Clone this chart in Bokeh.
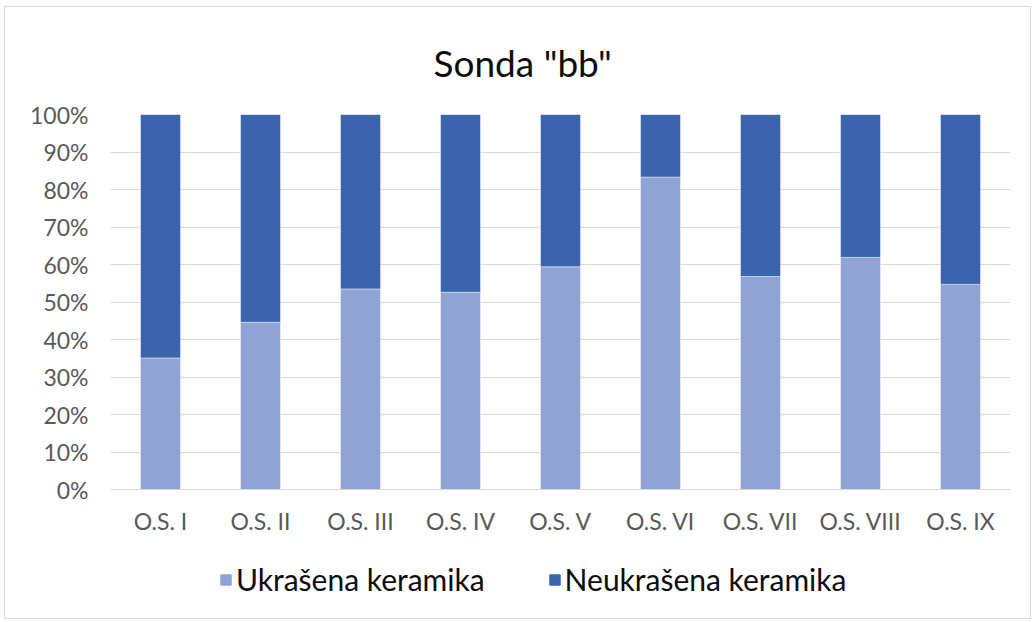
from bokeh.plotting import figure
from bokeh.layouts import column
from bokeh.models import (FactorRange, Range1d, FixedTicker, PrintfTickFormatter,
                          Legend, LegendItem, Title)
from bokeh.embed import file_html
from bokeh.resources import INLINE

categories = ["O.S. I", "O.S. II", "O.S. III", "O.S. IV", "O.S. V",
              "O.S. VI", "O.S. VII", "O.S. VIII", "O.S. IX"]
ukrasena = [35.1, 44.6, 53.5, 52.6, 59.4, 83.3, 56.8, 61.9, 54.7]
neukrasena = [64.9, 55.4, 46.5, 47.4, 40.6, 16.7, 43.2, 38.1, 45.3]
y_ticks = [0, 10, 20, 30, 40, 50, 60, 70, 80, 90, 100]
series_names = ["Ukrašena keramika", "Neukrašena keramika"]
colors = ["#8FA3D4", "#3B64AD"]
title_text = 'Sonda "bb"'

FONT = "Lato"
W = 1025

p = figure(x_range=FactorRange(*categories), y_range=Range1d(0, 100),
           width=W, height=538, output_backend="svg", toolbar_location=None,
           min_border_left=105, min_border_right=20, min_border_top=107,
           min_border_bottom=56)
p.outline_line_color = None
p.background_fill_color = "white"
p.border_fill_color = "white"

data = {"cat": categories, "u": ukrasena, "n": neukrasena}
rs = p.vbar_stack(["u", "n"], x="cat", width=0.4, color=colors, source=data,
                  line_color="white", line_alpha=0.45, line_width=1)

# axes
p.xgrid.grid_line_color = None
p.ygrid.grid_line_color = "#D9D9D9"
p.ygrid.grid_line_width = 1
p.yaxis.ticker = FixedTicker(ticks=y_ticks)
p.yaxis.formatter = PrintfTickFormatter(format="%d%%")
for ax in (p.xaxis[0], p.yaxis[0]):
    ax.axis_line_color = None
    ax.major_tick_line_color = None
    ax.minor_tick_line_color = None
    ax.major_tick_out = 0
    ax.major_tick_in = 0
    ax.major_label_text_font = FONT
    ax.major_label_text_font_size = "23px"
    ax.major_label_text_color = "#595959"
p.xaxis.axis_line_color = "#D9D9D9"
p.yaxis.major_label_standoff = 22
p.xaxis.major_label_standoff = 17

# title
t = Title(text=title_text, align="left", offset=323, standoff=59,
          text_font=FONT, text_font_size="37px", text_font_style="normal",
          text_color="#0D0D0D")
p.add_layout(t, "above")

# legend strip
p2 = figure(width=W, height=73, output_backend="svg", toolbar_location=None,
            x_range=Range1d(0, 1), y_range=Range1d(0, 1),
            x_axis_location=None, y_axis_location=None, min_border=0)
p2.grid.visible = False
p2.outline_line_color = None
p2.background_fill_color = "white"
p2.border_fill_color = "white"
nan = float("nan")
r_u = p2.vbar(x="x", top="top", width=0.4, color=colors[0],
              source={"x": [nan], "top": [nan]})
r_n = p2.vbar(x="x", top="top", width=0.4, color=colors[1],
              source={"x": [nan], "top": [nan]})

legend = Legend(items=[LegendItem(label=series_names[0], renderers=[r_u]),
                       LegendItem(label=series_names[1], renderers=[r_n])],
                orientation="horizontal", location=(109, 21),
                glyph_width=13, glyph_height=13, label_standoff=4, spacing=63,
                padding=0, margin=0, border_line_color=None,
                background_fill_alpha=0,
                label_text_font=FONT, label_text_font_size="30px",
                label_text_color="#0D0D0D")
p2.add_layout(legend, "center")

layout = column(p, p2, spacing=0)
layout.styles = {"border": "1px solid #d9d9d9", "margin-left": "4px",
                 "margin-top": "6px"}

open("out.html", "w").write(file_html(layout, INLINE))
